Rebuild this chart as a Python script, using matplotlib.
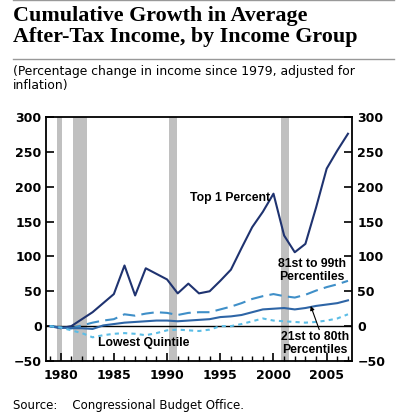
import matplotlib
matplotlib.use("Agg")
import matplotlib.pyplot as plt
from matplotlib.lines import Line2D

years = list(range(1979, 2008))
top1 = [0, -3, 0, 10, 20, 33, 46, 87, 44, 83, 75, 67, 47, 61, 47, 50,
        65, 81, 112, 142, 164, 190, 130, 106, 118, 170, 226, 252, 276]
p81_99 = [0, -2, -3, 1, 5, 8, 10, 17, 15, 18, 20, 19, 16, 19, 20, 20,
          24, 28, 33, 39, 43, 46, 43, 41, 45, 51, 56, 60, 65]
p21_80 = [0, -2, -3, -3, -4, 1, 3, 5, 6, 7, 8, 8, 7, 8, 9, 10,
          13, 14, 16, 20, 24, 25, 26, 24, 26, 29, 31, 33, 37]
lowest = [0, -2, -6, -10, -16, -13, -11, -10, -11, -13, -10, -6, -5, -6, -7, -5,
          0, 0, 3, 7, 11, 8, 7, 6, 5, 6, 8, 11, 17]
recessions = [(1979.7, 1980.1), (1981.2, 1982.5), (1990.2, 1990.9), (2000.7, 2001.5)]

title = "Cumulative Growth in Average\nAfter-Tax Income, by Income Group"
subtitle = "(Percentage change in income since 1979, adjusted for\ninflation)"
source = "Source:    Congressional Budget Office."

fig = plt.figure(figsize=(3.96, 4.17), dpi=100)
ax = fig.add_axes([0.1174, 0.1343, 0.7726, 0.5851])

# title block
fig.text(0.033, 0.985, title, fontsize=15.8, fontweight="bold",
         family="Liberation Serif", va="top", ha="left", linespacing=1.02)
fig.add_artist(Line2D([0.033, 0.995], [0.999, 0.999], color="#999999", lw=1))
fig.add_artist(Line2D([0.033, 0.995], [0.858, 0.858], color="#999999", lw=1))
fig.text(0.033, 0.845, subtitle, fontsize=8.9, va="top", ha="left",
         family="DejaVu Sans", linespacing=1.15)
fig.text(0.033, 0.028, source, fontsize=8.5, va="center", ha="left")

for a, b in recessions:
    ax.axvspan(a, b, color="#c0c0c0", lw=0, zorder=0)

ax.axhline(0, color="black", lw=1, zorder=1)
ax.plot(years, top1, color="#1f3370", lw=1.5, zorder=3)
ax.plot(years, p81_99, color="#3f8fc8", lw=1.5, ls=(0, (6, 3)), zorder=3)
ax.plot(years, p21_80, color="#2e65a6", lw=1.5, zorder=3)
ax.plot(years, lowest, color="#5bbde6", lw=1.5, ls=(0, (2, 2)), zorder=3)

ax.set_xlim(1978.67, 2007.42)
ax.set_ylim(-50, 300)
ax.set_xticks(range(1980, 2006, 5))
ax.set_xticks(range(1979, 2008), minor=True)
ax.set_yticks(range(-50, 301, 50))
ax.tick_params(axis="both", which="major", direction="in", length=6, width=1.2,
               labelsize=9, left=True, right=True, labelright=True)
ax.tick_params(axis="x", which="minor", direction="in", length=3.5, width=1)
ax.tick_params(axis="y", which="minor", left=False, right=False)
ax.tick_params(axis="x", pad=6)
for lab in ax.get_xticklabels() + ax.get_yticklabels():
    lab.set_fontweight("bold")
for t in ax.yaxis.get_major_ticks():
    t.label2.set_fontweight("bold")
for s in ax.spines.values():
    s.set_linewidth(1.3)

kw = dict(fontsize=8.8, fontweight="bold", family="Liberation Sans", zorder=4)
ax.text(1992.2, 184, "Top 1 Percent", ha="left", va="center", **kw)
ax.text(2003.6, 89, "81st to 99th", ha="center", va="center", **kw)
ax.text(2003.6, 71, "Percentiles", ha="center", va="center", **kw)
ax.text(2003.9, -16, "21st to 80th", ha="center", va="center", **kw)
ax.text(2003.9, -34, "Percentiles", ha="center", va="center", **kw)
ax.text(1987.8, -24, "Lowest Quintile", ha="center", va="center", **kw)
ax.annotate("", xy=(2003.5, 29), xytext=(2004.3, -5),
            arrowprops=dict(arrowstyle="-|>", color="black", lw=0.8,
                            mutation_scale=6, shrinkA=0, shrinkB=0))

fig.savefig("out.png", dpi=100)
